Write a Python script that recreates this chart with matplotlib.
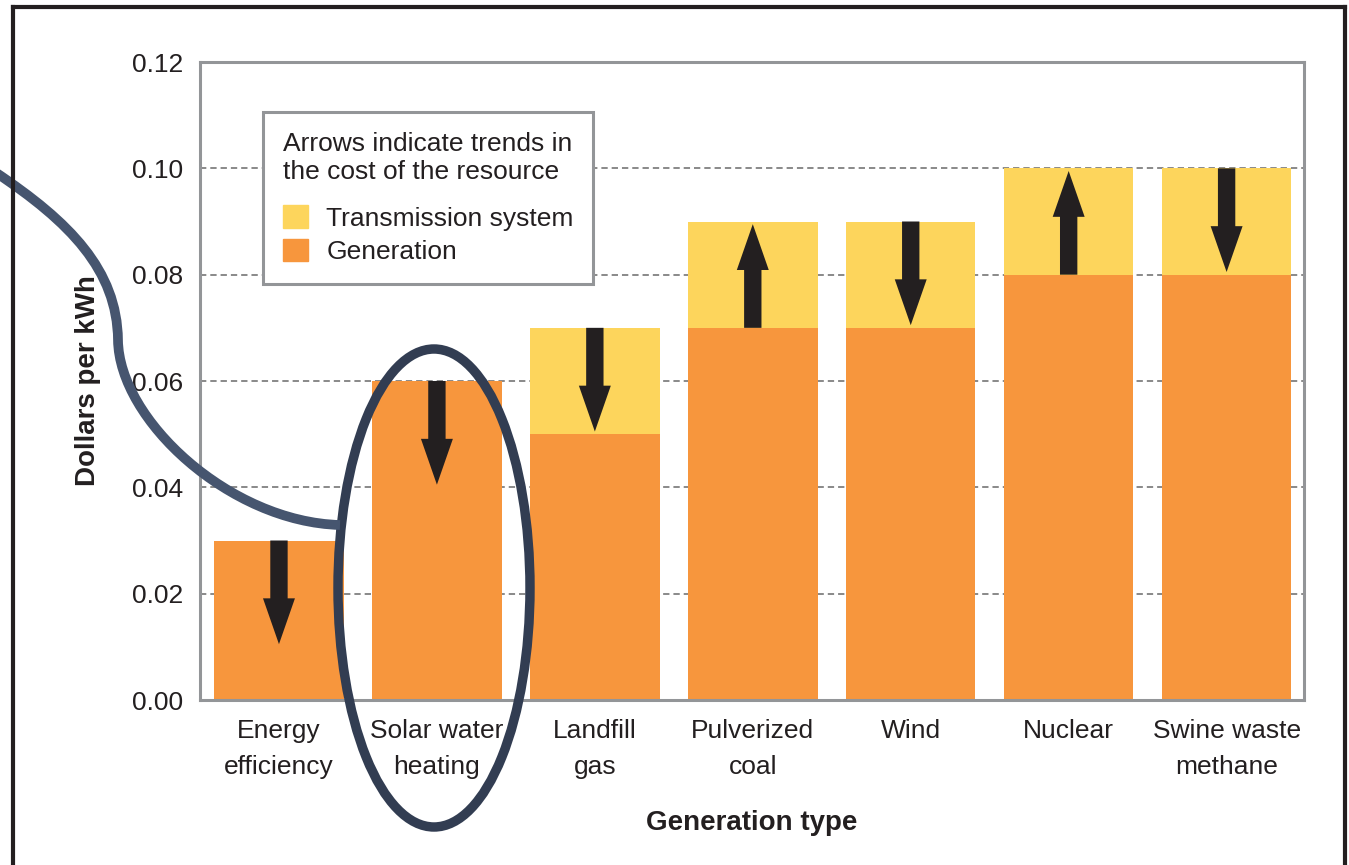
import matplotlib
matplotlib.use("Agg")
import matplotlib.pyplot as plt
import matplotlib.patches as mpatches
from matplotlib.path import Path
import numpy as np

plt.rcParams['font.family'] = ['Liberation Sans', 'DejaVu Sans']

# Data
categories = ["Energy\nefficiency", "Solar water\nheating", "Landfill\ngas",
              "Pulverized\ncoal", "Wind", "Nuclear", "Swine waste\nmethane"]
generation = [0.03, 0.06, 0.05, 0.07, 0.07, 0.08, 0.08]
transmission = [0.0, 0.0, 0.02, 0.02, 0.02, 0.02, 0.02]
trend = ["down", "down", "down", "up", "down", "up", "down"]
yticks = [0.00, 0.02, 0.04, 0.06, 0.08, 0.10, 0.12]

GEN_COLOR = "#F7963D"
TRANS_COLOR = "#FDD55C"
ARROW_COLOR = "#231F20"
FRAME_GRAY = "#939598"
INK = "#231F20"

W, H = 1349, 865
fig = plt.figure(figsize=(W / 100, H / 100), dpi=100)
ax = fig.add_axes([200 / W, 1 - 700 / H, 1104 / W, 638 / H])

x = np.arange(len(categories))
gen = np.array(generation)
trans = np.array(transmission)
ax.bar(x, gen, width=0.82, color=GEN_COLOR, zorder=1)
ax.bar(x, trans, width=0.82, bottom=gen, color=TRANS_COLOR, zorder=1)

# Trend arrows
arrow_len = 0.0195
for xi, g, t, d in zip(x, gen, trans, trend):
    if d == "down":
        tail = g + t
        tip = tail - arrow_len
    else:
        tail = g
        tip = tail + arrow_len
    ax.annotate("", xy=(xi, tip), xytext=(xi, tail),
                arrowprops=dict(width=12.5, headwidth=23, headlength=33,
                                shrink=0, color=ARROW_COLOR, lw=0),
                zorder=3)

ax.set_xlim(-0.5, 6.49)
ax.set_ylim(0, 0.12)
ax.set_yticks(yticks)
ax.set_yticklabels(["%.2f" % v for v in yticks])
ax.set_xticks(x)
ax.set_xticklabels(categories, linespacing=1.6)
ax.tick_params(axis="both", length=0, labelsize=19, colors=INK)
ax.tick_params(axis="y", pad=12)
ax.tick_params(axis="x", pad=14)

ax.yaxis.grid(True, linestyle=(0, (3.5, 2.2)), color="#808080", lw=1.3)
ax.set_axisbelow(True)
for s in ax.spines.values():
    s.set_color(FRAME_GRAY)
    s.set_linewidth(2.2)

ax.set_xlabel("Generation type", fontsize=20, fontweight="bold", color=INK)
ax.set_ylabel("Dollars per kWh", fontsize=20, fontweight="bold", color=INK)
ax.xaxis.set_label_coords(0.5, -0.172)
ax.yaxis.set_label_coords(-0.09, 0.5)

handles = [mpatches.Patch(color=TRANS_COLOR), mpatches.Patch(color=GEN_COLOR)]
leg = ax.legend(handles, ["Transmission system", "Generation"],
                title="Arrows indicate trends in\nthe cost of the resource",
                loc="upper left", bbox_to_anchor=(0.057, 0.922),
                fontsize=19, title_fontsize=19, alignment="left",
                frameon=True, fancybox=False, framealpha=1,
                edgecolor=FRAME_GRAY, handlelength=0.95, handleheight=0.95,
                handletextpad=0.7, labelspacing=0.3, borderpad=0.75,
                borderaxespad=0)
leg.get_frame().set_linewidth(2.2)
leg.get_title().set_color(INK)
leg.get_title().set_linespacing(1.25)
leg._legend_box.sep = 15
for t in leg.get_texts():
    t.set_color(INK)

# Outer frame of the picture
def px(xp, yp):
    return (xp / W, 1 - yp / H)

for a, b in [((13, 900), (13, 7)), ((13, 7), (1345, 7)), ((1345, 7), (1345, 900))]:
    fig.add_artist(plt.Line2D([px(*a)[0], px(*b)[0]], [px(*a)[1], px(*b)[1]],
                              color=INK, lw=3, transform=fig.transFigure))

# Hand-drawn highlight: ellipse around solar water heating and a connector curve
ell = mpatches.Ellipse(px(434, 588), 192 / W, 478 / H, fill=False,
                       edgecolor="#323D52", lw=6.8, transform=fig.transFigure)
fig.add_artist(ell)
verts = [px(-5, 172), px(70, 222), px(117, 270), px(118, 340),
         px(119, 420), px(230, 522), px(340, 525)]
codes = [Path.MOVETO] + [Path.CURVE4] * 6
curve = mpatches.PathPatch(Path(verts, codes), fill=False, edgecolor="#46556F",
                           lw=7, transform=fig.transFigure, capstyle="butt")
fig.add_artist(curve)

fig.savefig("out.png", dpi=100)
